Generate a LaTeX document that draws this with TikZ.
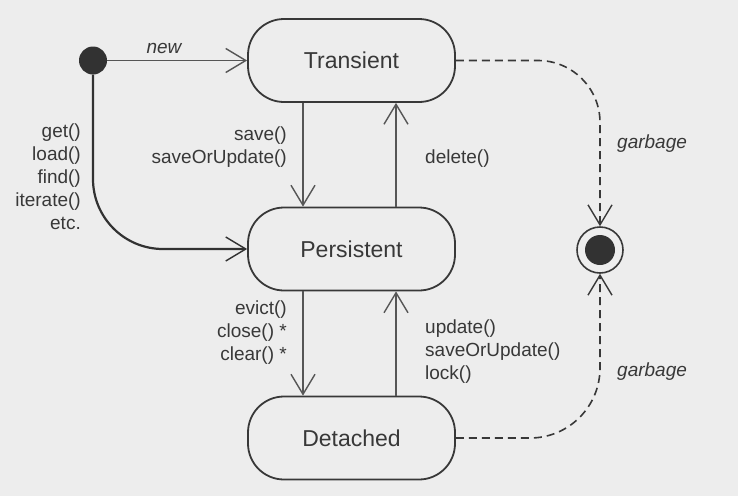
\documentclass[tikz,border=0pt]{standalone}
\usepackage{fontspec}
\setmainfont{Liberation Sans}
\usetikzlibrary{arrows.meta}
\definecolor{bg}{HTML}{EDEDED}
\definecolor{ink}{HTML}{383838}
\begin{document}
\begin{tikzpicture}[x=1pt,y=-1pt,
    state/.style={draw=ink, line width=1.8pt, rounded corners=36pt,
      minimum width=207pt, minimum height=83pt,
      font=\fontsize{23}{27}\selectfont, text=ink},
    lbl/.style={font=\fontsize{19}{23}\selectfont, text=ink, inner sep=0pt},
    move/.style={draw=ink!85, line width=1.4pt,
      -{Straight Barb[length=20pt,width=24pt,line width=1.4pt]}},
    gc/.style={move, draw=ink, line width=1.6pt, dash pattern=on 8pt off 5pt}]
  \useasboundingbox[fill=bg] (0,0) rectangle (738,496);
  % states
  \node[state] (trans) at (351.5,60.5) {Transient};
  \node[state] (pers) at (351.5,249) {Persistent};
  \node[state] (det) at (351.5,438) {Detached};
  \node[circle, fill=ink!90!black, minimum size=28pt, inner sep=0pt] (init) at (93,60.5) {};
  \node[circle, draw=ink, line width=1.6pt, minimum size=46pt, inner sep=0pt] (final) at (600,250) {};
  \node[circle, fill=ink!90!black, minimum size=30pt, inner sep=0pt] (finaldot) at (final) {};
  % transitions
  \draw[move] (init) -- (trans.west);
  \draw[move, line width=2.2pt, draw=ink!90!black, rounded corners=70pt] (init) |- (pers.west);
  \draw[move] ([xshift=-48.5pt]trans.south) -- ([xshift=-48.5pt]pers.north);
  \draw[move] ([xshift=44.5pt]pers.north) -- ([xshift=44.5pt]trans.south);
  \draw[move] ([xshift=-48.5pt]pers.south) -- ([xshift=-48.5pt]det.north);
  \draw[move] ([xshift=44.5pt]det.north) -- ([xshift=44.5pt]pers.south);
  \draw[gc, rounded corners=62pt] (trans.east) -| (final.north);
  \draw[gc, rounded corners=70pt] (det.east) -| (final.south);
  % labels
  \node[lbl, font=\fontsize{19}{23}\selectfont\itshape] (newlbl) at (164,48) {new};
  \node[lbl, align=right, anchor=east] (getlbl) at (81,177) {get()\\load()\\find()\\iterate()\\etc.};
  \node[lbl, align=right, anchor=east] (savelbl) at (287,147) {save()\\saveOrUpdate()};
  \node[lbl, anchor=west] (dellbl) at (425,159) {delete()};
  \node[lbl, align=right, anchor=east] (evictlbl) at (287,333) {evict()\\close() *\\clear() *};
  \node[lbl, align=left, anchor=west] (updlbl) at (425,352) {update()\\saveOrUpdate()\\lock()};
  \node[lbl, font=\fontsize{19}{23}\selectfont\itshape, anchor=west] (garb1) at (617,144) {garbage};
  \node[lbl, font=\fontsize{19}{23}\selectfont\itshape, anchor=west] (garb2) at (617,372) {garbage};
\end{tikzpicture}
\end{document}
